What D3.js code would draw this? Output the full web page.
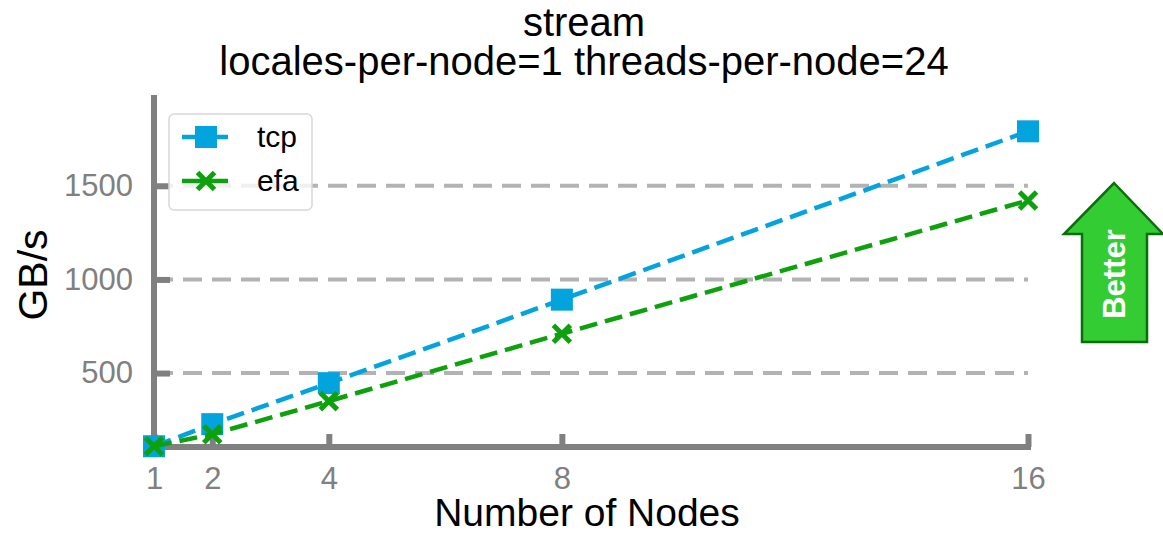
<!DOCTYPE html>
<html><head><meta charset="utf-8">
<script src="https://cdn.jsdelivr.net/npm/d3@7"></script>
<style>body{margin:0;background:#fff}svg{display:block;font-family:Arial,"Liberation Sans",sans-serif}</style>
</head><body><svg id="c" width="1163" height="540"></svg>
<script>
const nodes = [1, 2, 4, 8, 16];
const tcp = [109, 227, 446, 892, 1791];
const efa = [109, 173, 350, 710, 1422];
const yTicks = [500, 1000, 1500];
const xTicks = [1, 2, 4, 8, 16];
const titleLines = ["stream", "locales-per-node=1 threads-per-node=24"];

const svg = d3.select("#c");
const x = d3.scaleLinear().domain([1, 16]).range([154, 1028]);
const y = d3.scaleLinear().domain([105, 1985]).range([447, 95]);
const gray = "#808080";
const FONT = "Arial, 'Liberation Sans', sans-serif";

// grid
svg.append("g").selectAll("line").data(yTicks).join("line")
  .attr("x1", x(1)).attr("x2", x(16)).attr("y1", d => y(d)).attr("y2", d => y(d))
  .attr("stroke", "#b3b3b3").attr("stroke-width", 4).attr("stroke-dasharray", "19,10");

// axes
const xa = svg.append("g").attr("transform", `translate(0,${y(105)})`)
  .call(d3.axisBottom(x).tickValues(xTicks).tickSize(-13).tickPadding(20).tickFormat(d3.format("d")));
const ya = svg.append("g").attr("transform", `translate(${x(1)},0)`)
  .call(d3.axisLeft(y).tickValues(yTicks).tickSize(-16).tickPadding(21).tickFormat(d3.format("d")));
[xa, ya].forEach(a => {
  a.attr("font-size", 31).attr("font-family", FONT);
  a.select(".domain").attr("stroke", gray).attr("stroke-width", 6);
  a.selectAll(".tick line").attr("stroke", gray).attr("stroke-width", 6);
  a.selectAll(".tick text").attr("fill", gray);
});
xa.select(".domain").attr("d", `M${x(1)},0H${x(16)+3}`);
ya.select(".domain").attr("d", `M0,${y(105)+3}V95`);

// lines
const line = d3.line().x((d, i) => x(nodes[i])).y(d => y(d));
const series = [
  {name: "tcp", vals: tcp, color: "#03a3dd", marker: "square"},
  {name: "efa", vals: efa, color: "#0da10d", marker: "x"}
];
function drawMarker(g, type, color, cx, cy) {
  if (type === "square") {
    g.append("rect").attr("x", cx - 11).attr("y", cy - 11).attr("width", 22).attr("height", 22).attr("fill", color);
  } else {
    const s = 8.5;
    g.append("path").attr("d", `M${cx-s},${cy-s}L${cx+s},${cy+s}M${cx-s},${cy+s}L${cx+s},${cy-s}`)
      .attr("stroke", color).attr("stroke-width", 5).attr("fill", "none");
  }
}
series.forEach(s => {
  svg.append("path").datum(s.vals).attr("d", line).attr("fill", "none")
    .attr("stroke", s.color).attr("stroke-width", 4.5).attr("stroke-dasharray", "18,8");
  const g = svg.append("g");
  s.vals.forEach((v, i) => drawMarker(g, s.marker, s.color, x(nodes[i]), y(v)));
});

// legend
const lg = svg.append("g");
lg.append("rect").attr("x", 169).attr("y", 114).attr("width", 143).attr("height", 96).attr("rx", 5)
  .attr("fill", "rgba(255,255,255,0.8)").attr("stroke", "#d8d8d8").attr("stroke-width", 1.5);
series.forEach((s, i) => {
  const ly = 137 + i * 44;
  lg.append("line").attr("x1", 182).attr("x2", 228).attr("y1", ly).attr("y2", ly)
    .attr("stroke", s.color).attr("stroke-width", 4.5);
  drawMarker(lg, s.marker, s.color, 206, ly);
  lg.append("text").attr("x", 257).attr("y", ly + 10).attr("font-size", 30).attr("fill", "#000").text(s.name);
});

// title
svg.append("g").selectAll("text").data(titleLines).join("text")
  .attr("x", 584).attr("y", (d, i) => 36 + i * 39).attr("text-anchor", "middle")
  .attr("font-size", 40).attr("fill", "#000").text(d => d);

// axis labels
svg.append("text").attr("x", 587).attr("y", 526).attr("text-anchor", "middle")
  .attr("font-size", 39).attr("fill", "#000").text("Number of Nodes");
svg.append("text").attr("transform", "translate(47,275) rotate(-90)").attr("text-anchor", "middle")
  .attr("font-size", 41).attr("fill", "#000").text("GB/s");

// better arrow
const ax = 1114;
svg.append("path")
  .attr("d", `M${ax},183 L${ax+49},234 L${ax+33},234 L${ax+33},342 L${ax-32},342 L${ax-32},234 L${ax-50},234 Z`)
  .attr("fill", "#33cc33").attr("stroke", "#0a6e0a").attr("stroke-width", 2.5);
svg.append("text").attr("transform", `translate(1125,274) rotate(-90)`).attr("text-anchor", "middle")
  .attr("font-size", 31).attr("font-weight", "bold").attr("fill", "#fff").text("Better");
</script></body></html>
